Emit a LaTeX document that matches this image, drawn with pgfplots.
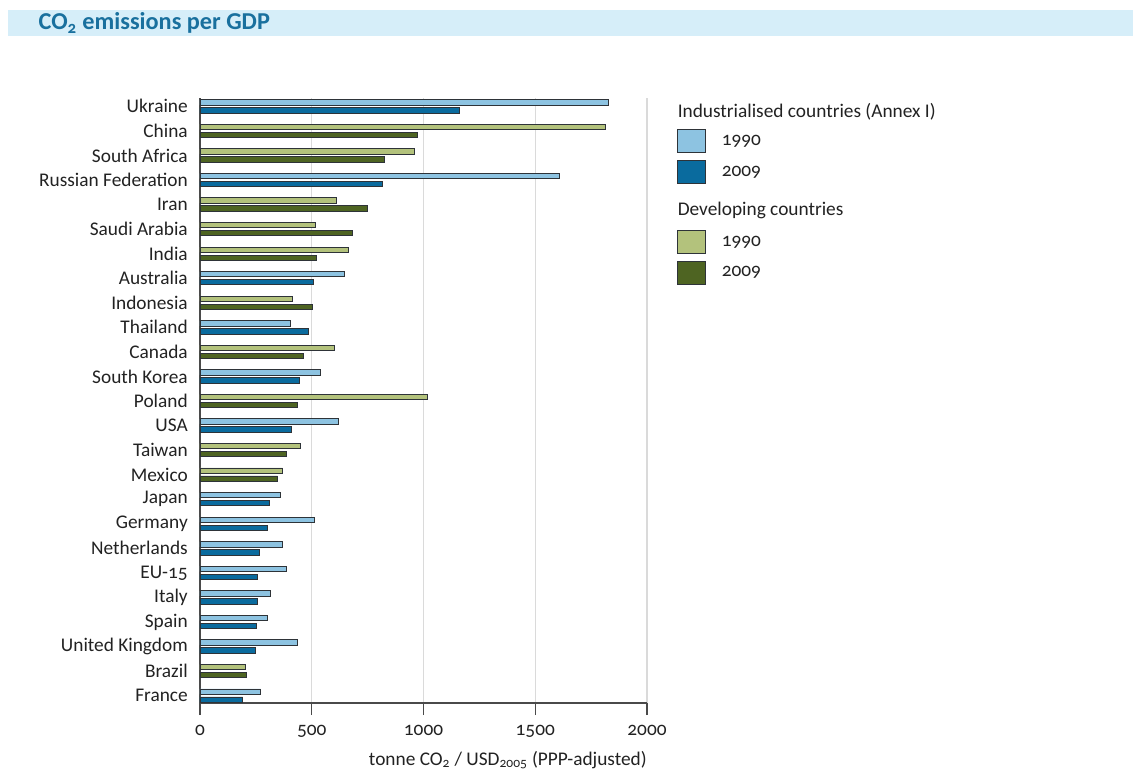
\documentclass[border=0pt]{standalone}
\usepackage{fontspec}
\setmainfont{Carlito}[Numbers=OldStyle]
\usepackage{pgfplots}
\usepackage{pgfplotstable}
\pgfplotsset{compat=1.18}
\definecolor{indA}{HTML}{8DC3E1}
\definecolor{indB}{HTML}{0A6B9E}
\definecolor{devA}{HTML}{B3C27C}
\definecolor{devB}{HTML}{4E6422}
\definecolor{titleblue}{HTML}{19709E}
\definecolor{banner}{HTML}{D6EEF9}
\definecolor{barline}{HTML}{2E3338}
\definecolor{axisgray}{HTML}{4A4A4A}
\definecolor{gridgray}{HTML}{DADADA}
\definecolor{labelcol}{HTML}{222222}

% industrialised, 1990
\pgfplotstableread{
y v
24 1827
21 1608
17 647
15 403
13 540
11 619
8 360
7 513
6 371
5 388
4 316
3 301
2 438
0 271
}\indA
% industrialised, 2009
\pgfplotstableread{
y v
24 1163
21 817
17 509
15 486
13 447
11 409
8 310
7 300
6 267
5 258
4 256
3 252
2 249
0 191
}\indB
% developing, 1990
\pgfplotstableread{
y v
23 1812
22 958
20 611
19 516
18 662
16 413
14 601
12 1019
10 449
9 370
1 204
}\devA
% developing, 2009
\pgfplotstableread{
y v
23 974
22 825
20 749
19 683
18 519
16 501
14 465
12 438
10 388
9 347
1 209
}\devB

\begin{document}
\begin{tikzpicture}[font=\fontsize{14.5}{17}\selectfont]
\path[use as bounding box] (0,0) rectangle (849.75pt,-580.5pt);
\fill[banner] (6pt,-7.5pt) rectangle (849.75pt,-27pt);
\node[anchor=base west, inner sep=0pt, font=\fontsize{18.2}{21}\selectfont\bfseries, text=titleblue] at (28.75pt,-22.5pt) {CO\textsubscript{2} emissions per GDP};
\begin{axis}[
  scale only axis, width=335.25pt, height=453.75pt,
  at={(150pt,-527.25pt)}, anchor=south west,
  xmin=0, xmax=2000, ymin=-0.3, ymax=24.34,
  axis x line=bottom, axis y line=left,
  axis line style={-, draw=axisgray, line width=0.8pt},
  xmajorgrids, grid style={gridgray, line width=0.8pt},
  xtick={0,500,1000,1500,2000},
  scaled x ticks=false,
  /pgf/number format/set thousands separator={},
  /pgf/number format/assume math mode=true,
  tick align=outside, major tick length=9pt,
  x tick style={draw=axisgray, line width=0.8pt},
  y tick style={draw=none},
  ytick={0,...,24},
  yticklabels={France, Brazil, United Kingdom, Spain, Italy, EU-15, Netherlands, Germany, Japan, Mexico, Taiwan, USA, Poland, South Korea, Canada, Thailand, Indonesia, Australia, India, Saudi Arabia, Iran, Russian Federation, South Africa, China, Ukraine},
  tick label style={text=labelcol},
  yticklabel style={inner sep=0pt, xshift=0pt},
  xticklabel style={inner sep=0pt, anchor=base, yshift=-15pt},
  xlabel={tonne CO\textsubscript{2} / USD\textsubscript{2005} (PPP-adjusted)},
  xlabel style={at={(axis description cs:1,0)}, anchor=base east, yshift=-46.5pt, inner sep=0pt, text=labelcol},
  bar width=4pt,
  legend image code/.code={\draw[#1, draw=barline, line width=0.6pt] (0pt,-8.5pt) rectangle (21pt,8.5pt);},
  legend style={at={(rel axis cs:1,1)}, anchor=north west, xshift=22.5pt, yshift=-2.5pt,
    draw=none, fill=none, inner sep=0pt, outer sep=0pt, row sep=5.5pt, column sep=12pt,
    cells={anchor=west}, nodes={inner sep=0pt, text=labelcol},
    font=\fontsize{14.5}{17}\selectfont},
]
\addplot[xbar, bar shift=3pt, fill=indA, draw=barline, line width=0.65pt, forget plot] table[x=v, y=y] {\indA};
\addplot[xbar, bar shift=-3pt, fill=indB, draw=barline, line width=0.65pt, forget plot] table[x=v, y=y] {\indB};
\addplot[xbar, bar shift=3pt, fill=devA, draw=barline, line width=0.65pt, forget plot] table[x=v, y=y] {\devA};
\addplot[xbar, bar shift=-3pt, fill=devB, draw=barline, line width=0.65pt, forget plot] table[x=v, y=y] {\devB};

\addlegendimage{empty legend}
\addlegendentry{\hspace{-33pt}\strut Industrialised countries (Annex I)}
\addlegendimage{fill=indA, legend image code/.code={\draw[fill=indA, draw=barline, line width=0.6pt] (0pt,-8.5pt) rectangle (21pt,8.5pt); \path[draw=none, fill=none] (0pt,-8.5pt) -- (0pt,11pt);}}
\addlegendentry{1990}
\addlegendimage{fill=indB, legend image code/.code={\draw[fill=indB, draw=barline, line width=0.6pt] (0pt,-8.5pt) rectangle (21pt,8.5pt); \path[draw=none, fill=none] (0pt,-15.5pt) -- (0pt,8.5pt);}}
\addlegendentry{2009}
\addlegendimage{empty legend}
\addlegendentry{\hspace{-33pt}\strut Developing countries}
\addlegendimage{fill=devA, legend image code/.code={\draw[fill=devA, draw=barline, line width=0.6pt] (0pt,-8.5pt) rectangle (21pt,8.5pt); \path[draw=none, fill=none] (0pt,-8.5pt) -- (0pt,12.5pt);}}
\addlegendentry{1990}
\addlegendimage{fill=devB}
\addlegendentry{2009}
\end{axis}
\end{tikzpicture}
\end{document}
